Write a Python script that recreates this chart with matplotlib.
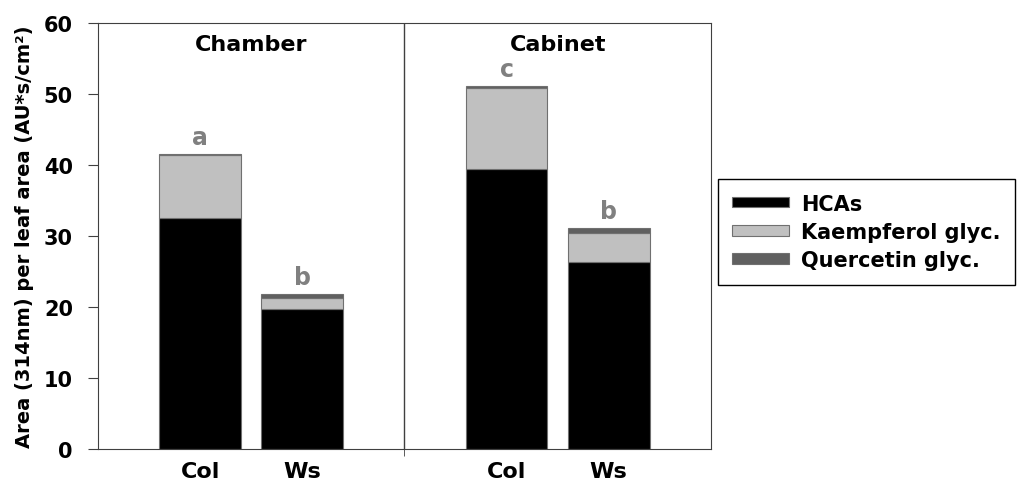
import matplotlib.pyplot as plt
import numpy as np

plt.rcParams['font.family'] = ['DejaVu Sans']
plt.rcParams['font.weight'] = 'bold'

# bar positions: Chamber Col, Chamber Ws, Cabinet Col, Cabinet Ws
positions = [1, 2, 4, 5]
tick_labels = ['Col', 'Ws', 'Col', 'Ws']
hcas = [32.5, 19.7, 39.4, 26.3]
kaempferol = [8.9, 1.6, 11.5, 4.1]
quercetin = [0.1, 0.5, 0.2, 0.7]
letters = ['a', 'b', 'c', 'b']
groups = ['Chamber', 'Cabinet']
group_centers = [1.5, 4.5]

fig = plt.figure(figsize=(10.24, 4.85), dpi=100)
ax = fig.add_axes([0.0957, 0.0728, 0.5985, 0.8777])

w = 0.8
edge = '#707070'
b1 = ax.bar(positions, hcas, w, color='black', edgecolor=edge, linewidth=0.8, label='HCAs')
bottom2 = np.array(hcas)
b2 = ax.bar(positions, kaempferol, w, bottom=bottom2, color='#c0c0c0', edgecolor=edge,
            linewidth=0.8, label='Kaempferol glyc.')
bottom3 = bottom2 + np.array(kaempferol)
b3 = ax.bar(positions, quercetin, w, bottom=bottom3, color='#606060', edgecolor=edge,
            linewidth=0.8, label='Quercetin glyc.')

totals = bottom3 + np.array(quercetin)
for x, t, l in zip(positions, totals, letters):
    ax.text(x, t + 1.4, l, ha='center', va='baseline', color='#808080',
            fontsize=17, fontweight='bold')

for g, c in zip(groups, group_centers):
    ax.text(c, 57, g, ha='center', va='center', fontsize=16, fontweight='bold')

ax.axvline(3, color='#404040', linewidth=1)

ax.set_xlim(0, 6)
ax.set_ylim(0, 60)
ax.set_yticks(range(0, 61, 10))
ax.set_xticks(positions)
ax.set_xticklabels(tick_labels)
ax.set_xticks([3], minor=True)
ax.tick_params(axis='x', which='major', length=0, pad=9, labelsize=16)
ax.tick_params(axis='x', which='minor', length=5, direction='out', color='#404040')
ax.tick_params(axis='y', length=7, direction='out', labelsize=15, pad=11, color='#404040')
for lab in ax.get_xticklabels() + ax.get_yticklabels():
    lab.set_fontweight('bold')
ax.set_ylabel('Area (314nm) per leaf area (AU*s/cm²)', fontsize=14, fontweight='bold', labelpad=7)
for s in ax.spines.values():
    s.set_color('#404040')

leg = fig.legend(handles=[b1, b2, b3], loc='upper left', bbox_to_anchor=(0.701, 0.629),
                 borderaxespad=0, fancybox=False, edgecolor='black', fontsize=15,
                 handlelength=2.7, handleheight=0.4, labelspacing=0.4, borderpad=0.7,
                 handletextpad=0.6, framealpha=1)
leg.get_frame().set_linewidth(1)
for t in leg.get_texts():
    t.set_fontweight('bold')

fig.savefig('out.png', dpi=100)
